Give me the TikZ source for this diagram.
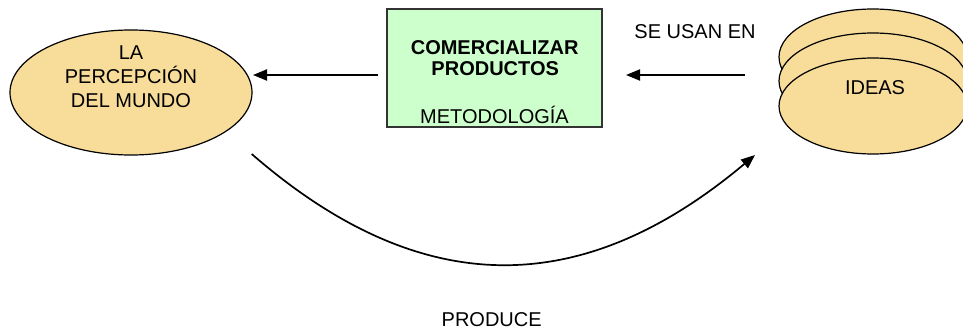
\documentclass[tikz,border=0pt]{standalone}
\usepackage{fontspec}
\setmainfont{Liberation Sans}
\usetikzlibrary{shapes.geometric,arrows.meta}
\definecolor{ideafill}{HTML}{F8DC9A}
\definecolor{boxfill}{HTML}{CCFFCC}
\tikzset{
  blob/.style={ellipse, draw=black, line width=1.2pt, fill=ideafill, inner sep=0pt},
  stepbox/.style={rectangle, draw=black!80, line width=1.2pt, fill=boxfill,
    minimum width=215pt, minimum height=118pt, inner sep=0pt},
  lbl/.style={font=\fontsize{20}{24}\selectfont, anchor=base, inner sep=0pt},
  lblb/.style={lbl, font=\fontsize{20}{24}\selectfont\bfseries},
  arr/.style={line width=1.9pt, -{Triangle[length=14pt,width=11pt]}},
  flow/.style={line width=1.7pt, -{Triangle[length=14pt,width=11pt]}},
}
\begin{document}
\begin{tikzpicture}[x=1pt,y=-1pt]
  \useasboundingbox (0,0) rectangle (963,329);
  \clip (0,0) rectangle (963,329);
  \fill[white] (0,0) rectangle (963,329);

  % perception of the world
  \node[blob, minimum width=242pt, minimum height=125pt] (percep) at (131,92.5) {};
  \node[lbl] (la) at (131,59.3) {LA};
  \node[lbl] (perc) at (131,83.3) {PERCEPCIÓN};
  \node[lbl] (mundo) at (131,107.3) {DEL MUNDO};

  % central methodology box
  \node[stepbox] (box) at (494.5,68) {};
  \node[lblb] (com) at (494.7,55) {COMERCIALIZAR};
  \node[lblb] (prod) at (495.2,75) {PRODUCTOS};
  \node[lbl] (met) at (494.5,123.3) {METODOLOGÍA};

  % stack of ideas
  \node[blob, minimum width=188pt, minimum height=96pt] (ideasC) at (873,57) {};
  \node[blob, minimum width=188pt, minimum height=96pt] (ideasB) at (873,81) {};
  \node[blob, minimum width=188pt, minimum height=96pt] (ideas) at (873,106) {};
  \node[lbl] (ideastxt) at (875,94.3) {IDEAS};

  % connector labels
  \node[lbl] (usan) at (695,38.3) {SE USAN EN};
  \node[lbl] (produce) at (491.7,326.7) {PRODUCE};

  % connector ends
  \coordinate (boxOut) at (378,75);
  \coordinate (percepIn) at (253,75);
  \coordinate (ideasOut) at (745,75);
  \coordinate (boxIn) at (626,75);
  \coordinate (percepOut) at (251.7,154);
  \coordinate (ideasIn) at (755,155);

  \draw[arr] (boxOut) -- (percepIn);
  \draw[arr] (ideasOut) -- (boxIn);
  \draw[flow] (percepOut) .. controls (421.6,301.6) and (582.6,299.7) .. (ideasIn);
\end{tikzpicture}
\end{document}
